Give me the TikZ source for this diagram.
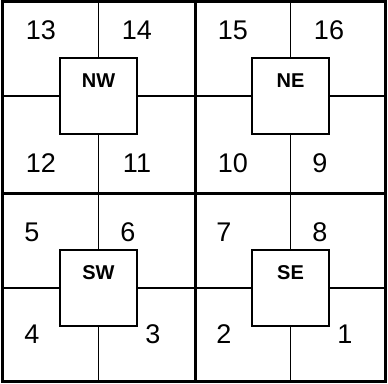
\documentclass[tikz,border=0pt]{standalone}
\usepackage{fontspec}
\setmainfont{Liberation Sans}
\tikzset{
  quadbox/.style={draw,line width=2pt,fill=white,minimum width=77pt,minimum height=76pt,inner sep=0pt},
  quadlbl/.style={font=\bfseries\fontsize{20}{22}\selectfont,inner sep=0pt},
  cellnum/.style={font=\fontsize{27}{29}\selectfont,inner sep=0pt},
  cellline/.style={line width=1.6pt},
  frameline/.style={line width=3pt}
}
\begin{document}
\begin{tikzpicture}[x=1pt,y=-1pt]
\useasboundingbox (0,0) rectangle (388,383);
% the four quadrants, each with its box and cross lines
\foreach \q/\cx/\cy/\l/\t/\r/\b/\txt in {nw/98.5/96/2.5/1.5/195/193/NW,ne/290.5/96/195/1.5/385.5/193/NE,sw/98.5/288/2.5/193/195/381.5/SW,se/290.5/288/195/193/385.5/381.5/SE}{
  \coordinate (\q-t) at (\cx,\t);
  \coordinate (\q-b) at (\cx,\b);
  \coordinate (\q-l) at (\l,\cy);
  \coordinate (\q-r) at (\r,\cy);
  \node[quadbox] (\q) at (\cx,\cy) {};
  \node[quadlbl] (\q-lbl) at ([yshift=15pt]\q.center) {\txt};
  \draw[cellline] (\q.north) -- (\q-t);
  \draw[cellline] (\q.south) -- (\q-b);
  \draw[cellline] (\q.west) -- (\q-l);
  \draw[cellline] (\q.east) -- (\q-r);
}
% outer frame and middle cross
\coordinate (midtop) at (195,1.5);
\coordinate (midbot) at (195,381.5);
\coordinate (midleft) at (2.5,193);
\coordinate (midright) at (385.5,193);
\draw[frameline] (2.5,1.5) rectangle (385.5,381.5);
\draw[frameline] (midtop) -- (midbot);
\draw[frameline] (midleft) -- (midright);
% cell numbers
\node[cellnum] (n13) at (41,30) {13};
\node[cellnum] (n14) at (137,30) {14};
\node[cellnum] (n15) at (233,30) {15};
\node[cellnum] (n16) at (329,30) {16};
\node[cellnum] (n12) at (41,163) {12};
\node[cellnum] (n11) at (137,163) {11};
\node[cellnum] (n10) at (233,163) {10};
\node[cellnum] (n9) at (320,163) {9};
\node[cellnum] (n5) at (32,232) {5};
\node[cellnum] (n6) at (128,232) {6};
\node[cellnum] (n7) at (224,232) {7};
\node[cellnum] (n8) at (320,232) {8};
\node[cellnum] (n4) at (32,334) {4};
\node[cellnum] (n3) at (153,334) {3};
\node[cellnum] (n2) at (224,334) {2};
\node[cellnum] (n1) at (345,334) {1};
\end{tikzpicture}
\end{document}
